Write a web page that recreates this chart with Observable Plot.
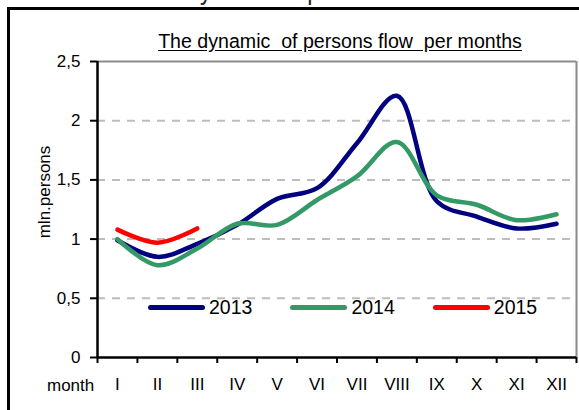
<!DOCTYPE html>
<html>
<head>
<meta charset="utf-8">
<script src="https://cdn.jsdelivr.net/npm/d3@7"></script>
<script src="https://cdn.jsdelivr.net/npm/@observablehq/plot@0.6"></script>
<style>
  html, body { margin: 0; padding: 0; background: #fff; overflow: hidden; }
  #wrap { position: relative; width: 579px; height: 410px; font-family: "Liberation Sans", Arial, sans-serif; }
  #frame { position: absolute; left: 7px; top: 7px; width: 600px; height: 420px; border: 3px solid #000; box-sizing: border-box; }
  #cut { position: absolute; left: 0; width: 579px; top: -25px; text-align: center; font-size: 28px; line-height: 30px; color: #222; transform: scaleX(0.84); }
  #title { position: absolute; left: 340px; top: 29px; transform: translateX(-50%); font-size: 19.6px; line-height: 24px; text-decoration: underline; text-underline-offset: 2px; color: #000; white-space: pre; }
  #ylab { position: absolute; left: 45px; top: 192px; transform: translate(-50%, -50%) rotate(-90deg); font-size: 17px; color: #000; white-space: nowrap; }
  #xlab { position: absolute; left: 47px; top: 376px; font-size: 17px; line-height: 20px; color: #000; }
  #legend { position: absolute; top: 294px; left: 148px; display: flex; font-size: 19.5px; line-height: 26px; color: #000; }
  .item { display: flex; align-items: center; margin-right: 38px; }
  .sw { width: 57px; height: 5px; border-radius: 3px; margin-right: 4px; }
  svg { position: absolute; left: 0; top: 0; }
</style>
</head>
<body>
<div id="wrap">
  <div id="frame"></div>
  <div id="cut">The dynamic of persons flow</div>
  <div id="title">The dynamic  of persons flow  per months</div>
  <div id="ylab">mln.persons</div>
  <div id="xlab">month</div>
  <div id="legend"></div>
</div>
<script>
const months = ["I","II","III","IV","V","VI","VII","VIII","IX","X","XI","XII"];
const v2013 = [0.99, 0.85, 0.96, 1.12, 1.34, 1.43, 1.81, 2.21, 1.32, 1.19, 1.09, 1.13];
const v2014 = [1.00, 0.78, 0.92, 1.13, 1.12, 1.33, 1.53, 1.82, 1.37, 1.29, 1.16, 1.21];
const v2015 = [1.08, 0.97, 1.09];
const years = ["2013", "2014", "2015"];
const colors = ["#000080", "#339966", "#ff0000"];
const yTicks = [0, 0.5, 1, 1.5, 2, 2.5];

const seriesVals = [v2013, v2014, v2015];
const data = seriesVals.flatMap((vals, k) => vals.map((v, i) => ({year: years[k], i: i + 0.5, v})));

const chart = Plot.plot({
  width: 579,
  height: 410,
  marginLeft: 97,
  marginRight: 3,
  marginTop: 61,
  marginBottom: 53,
  style: {fontFamily: '"Liberation Sans", Arial, sans-serif', color: "#000", background: "transparent"},
  x: {type: "linear", domain: [0, 12]},
  y: {domain: [0, 2.5]},
  color: {domain: years, range: colors},
  marks: [
    Plot.ruleY([0.5, 1, 1.5, 2], {stroke: "#bdbdbd", strokeWidth: 2, strokeDasharray: "8,7"}),
    Plot.ruleY([2.5], {stroke: "#8c8c8c", strokeWidth: 2}),
    Plot.ruleX([12], {stroke: "#8c8c8c", strokeWidth: 2}),
    Plot.line(data, {x: "i", y: "v", z: "year", stroke: "year", strokeWidth: 4.5, curve: "catmull-rom"}),
    Plot.ruleX([0], {stroke: "#000", strokeWidth: 2.5}),
    Plot.ruleY([0], {stroke: "#000", strokeWidth: 2.5}),
    Plot.axisY({ticks: yTicks, tickSize: 7, tickPadding: 10, fontSize: 17, tickFormat: d => String(d).replace(".", ","), label: null, strokeWidth: 2}),
    Plot.axisX({ticks: d3.range(13), tickSize: 6, tickFormat: () => "", label: null, strokeWidth: 2}),
    Plot.axisX({ticks: months.map((m, i) => i + 0.5), tickSize: 0, tickPadding: 20, fontSize: 17, tickFormat: (d) => months[Math.floor(d)], label: null})
  ]
});
document.getElementById("wrap").appendChild(chart);

const leg = document.getElementById("legend");
years.forEach((y, k) => {
  const it = document.createElement("div");
  it.className = "item";
  it.innerHTML = `<div class="sw" style="background:${colors[k]}"></div><span>${y}</span>`;
  leg.appendChild(it);
});
</script>
</body>
</html>
